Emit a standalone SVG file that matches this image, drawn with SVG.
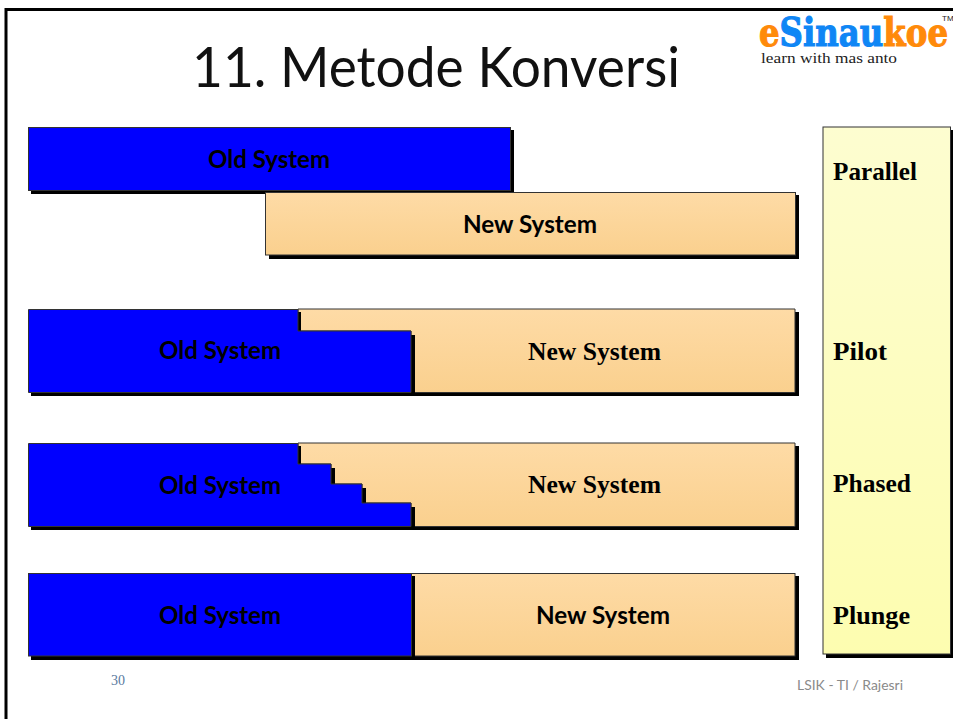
<svg xmlns="http://www.w3.org/2000/svg" width="953" height="719" viewBox="0 0 953 719">
<style>
.body{stroke:#333;stroke-width:1}
.old{fill:#0000ff}
.new{fill:url(#tan)}
.shadow{fill:#000}
.cal{font-family:Lato,"Open Sans",sans-serif;font-weight:700;font-size:24px;fill:#000;text-anchor:middle}
.ser{font-family:"Liberation Serif","DejaVu Serif",serif;font-weight:700;font-size:25px;fill:#000}
</style>
<defs>
<linearGradient id="tan" x1="0" y1="0" x2="0" y2="1"><stop offset="0" stop-color="#fedba6"/><stop offset="1" stop-color="#fad08e"/></linearGradient>
<linearGradient id="yel" x1="0" y1="0" x2="0" y2="1"><stop offset="0" stop-color="#fdfdd0"/><stop offset="1" stop-color="#fdfdb0"/></linearGradient>
</defs>
<rect width="953" height="719" fill="#fff"/>
<path d="M6 719V9.500H953" fill="none" stroke="#000" stroke-width="3"/>
<text x="436" y="87" font-family="Lato,'Open Sans',sans-serif" font-size="57" text-anchor="middle" textLength="488" lengthAdjust="spacingAndGlyphs" fill="#111">11. Metode Konversi</text>
<g id="logo">
<text x="759" y="46" font-family="'DejaVu Serif',serif" font-weight="700" font-size="40" textLength="189" lengthAdjust="spacingAndGlyphs" stroke-width="1.200"><tspan fill="#ff8a0a" stroke="#ff8a0a">e</tspan><tspan fill="#0f86f5" stroke="#0f86f5">Sinau</tspan><tspan fill="#ff8a0a" stroke="#ff8a0a">koe</tspan></text>
<text x="761" y="63" font-family="'Liberation Serif',serif" font-size="15" fill="#222" textLength="136" lengthAdjust="spacingAndGlyphs">learn with mas anto</text>
<text x="942" y="21" font-family="'Liberation Sans',sans-serif" font-size="8" fill="#222">TM</text>
</g>
<g id="parallel-old"><rect class="shadow" x="31" y="130" width="483" height="64"/><rect class="body old" x="28.500" y="127.500" width="482" height="63"/><text class="cal" x="269" y="168" textLength="122" lengthAdjust="spacingAndGlyphs">Old System</text></g>
<g id="parallel-new"><rect class="shadow" x="269" y="195" width="530" height="64"/><rect class="body new" x="265.500" y="192.500" width="530" height="62.500"/><text class="cal" x="530" y="233" textLength="134" lengthAdjust="spacingAndGlyphs">New System</text></g>
<g id="pilot-new"><path class="shadow" d="M415 396H799V312H400V396Z"/><path class="body new" d="M298 309H795V392.500H411V331H298Z"/><text class="ser" x="528" y="360" textLength="133" lengthAdjust="spacingAndGlyphs">New System</text></g>
<g id="pilot-old"><path class="shadow" d="M31 312H301V335H415V396H31Z"/><path class="body old" d="M28.500 309.500H298V331H411V392.500H28.500Z"/><text class="cal" x="220" y="359" textLength="122" lengthAdjust="spacingAndGlyphs">Old System</text></g>
<g id="phased-new"><path class="shadow" d="M415 530H799V446H400V530Z"/><path class="body new" d="M298 443H795V526.500H411V503H362V484H331V464H298Z"/><text class="ser" x="528" y="493" textLength="133" lengthAdjust="spacingAndGlyphs">New System</text></g>
<g id="phased-old"><path class="shadow" d="M31 446H301V468H335V488H366V507H415V530H31Z"/><path class="body old" d="M28.500 443.500H298V464H331V484H362V503H411V526.500H28.500Z"/><text class="cal" x="220" y="494" textLength="122" lengthAdjust="spacingAndGlyphs">Old System</text></g>
<g id="plunge-new"><rect class="shadow" x="415" y="576" width="384" height="84"/><rect class="body new" x="411.500" y="573.500" width="383.500" height="82.500"/><text class="cal" x="603" y="624" textLength="134" lengthAdjust="spacingAndGlyphs">New System</text></g>
<g id="plunge-old"><rect class="shadow" x="31" y="576" width="384" height="84"/><rect class="body old" x="28.500" y="573.500" width="383" height="82.500"/><text class="cal" x="220" y="624" textLength="122" lengthAdjust="spacingAndGlyphs">Old System</text></g>
<g id="methods"><rect class="shadow" x="826" y="130" width="127" height="528"/><rect x="823" y="127" width="127.500" height="527" fill="url(#yel)" stroke="#333"/>
<text class="ser" x="833" y="180" textLength="84" lengthAdjust="spacingAndGlyphs">Parallel</text><text class="ser" x="833" y="360" textLength="54" lengthAdjust="spacingAndGlyphs">Pilot</text><text class="ser" x="833" y="492" textLength="78" lengthAdjust="spacingAndGlyphs">Phased</text><text class="ser" x="833" y="624" textLength="77" lengthAdjust="spacingAndGlyphs">Plunge</text></g>
<text x="111" y="685" font-family="'Liberation Serif',serif" font-size="14" fill="#5a7aa0">30</text>
<text x="797" y="690" font-family="Lato,'Open Sans',sans-serif" font-size="14" fill="#8a8a8a" textLength="106" lengthAdjust="spacingAndGlyphs">LSIK - TI / Rajesri</text>
</svg>
